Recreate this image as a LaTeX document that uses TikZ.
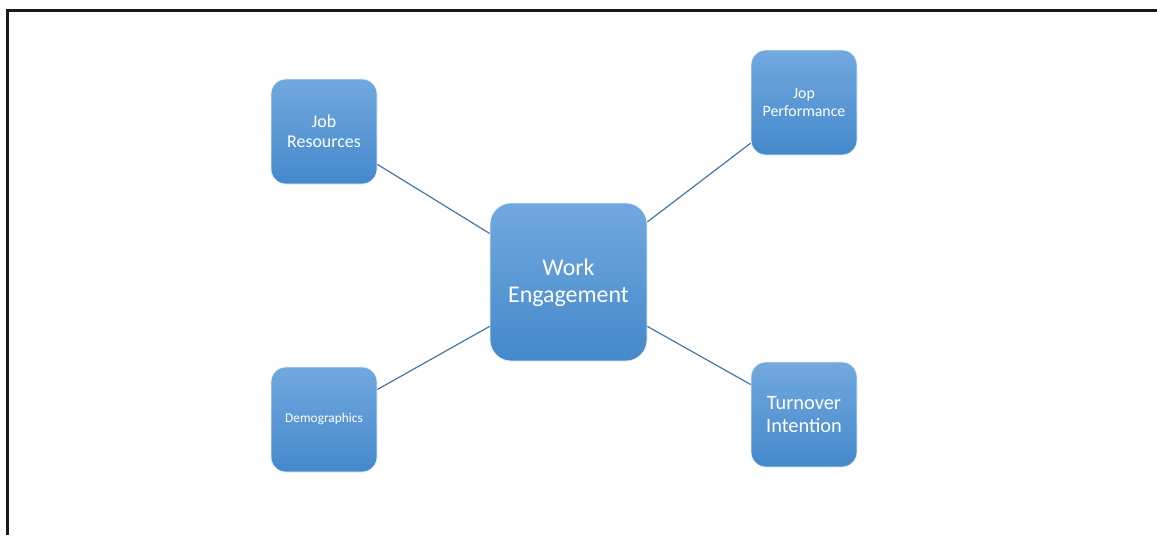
\documentclass[tikz,border=0pt]{standalone}
\usepackage{fontspec}
\setmainfont{Carlito}
\usepackage{xcolor}
\definecolor{boxTop}{HTML}{72A8DF}
\definecolor{boxMid}{HTML}{5799DA}
\definecolor{boxBottom}{HTML}{4489CB}
\definecolor{linkBlue}{HTML}{4A78A8}
\usepackage{tikz}
\usetikzlibrary{positioning}

\begin{document}
\begin{tikzpicture}[
        hubNode/.style={
            draw=white!85!boxTop,
            line width=0.4pt,
            top color=boxTop,
            middle color=boxMid,
            bottom color=boxBottom,
            rounded corners=12pt,
            minimum height=3.16cm,
            minimum width=3.14cm,
            align=center,
            text=white
        },
        factorNode/.style={
            draw=white!85!boxTop,
            line width=0.4pt,
            top color=boxTop,
            middle color=boxMid,
            bottom color=boxBottom,
            rounded corners=8.5pt,
            minimum height=2.1cm,
            minimum width=2.12cm,
            align=center,
            text=white
        },
        linkLine/.style={
            draw=linkBlue,
            line width=0.7pt
        },
        frameLine/.style={
            draw=black!90,
            line width=1.5pt
        }
    ]

    % Page frame (open at the right and bottom)
    \useasboundingbox (0, 0) rectangle (23.14, -10.7);
    \coordinate (frameTop) at (23.14, -0.21);
    \coordinate (frameCorner) at (0.15, -0.21);
    \coordinate (frameBottom) at (0.15, -10.7);
    \draw[frameLine] (frameTop) -- (frameCorner) -- (frameBottom);

    % Positions
    \node[hubNode, font=\fontsize{13.6}{15.3}\selectfont] (engage) at (11.37, -5.64) {\strut Work\\Engagement};

    \node[factorNode, font=\fontsize{10.2}{11.4}\selectfont] (resources) at (6.48, -2.63) {Job\\Resources};
    \node[factorNode, font=\fontsize{7.6}{9}\selectfont] (demo) at (6.48, -8.39) {\strut Demographics};

    \node[factorNode, font=\fontsize{9}{10.2}\selectfont] (perform) at (16.08, -2.05) {Jop\\Performance};
    \node[factorNode, font=\fontsize{11.6}{13}\selectfont] (turnover) at (16.08, -8.29) {Turnover\\Intention};

    % Connections
    \draw[linkLine] (resources) -- (engage);
    \draw[linkLine] (demo) -- (engage);
    \draw[linkLine] (perform) -- (engage);
    \draw[linkLine] (turnover) -- (engage);

    \end{tikzpicture}
\end{document}
